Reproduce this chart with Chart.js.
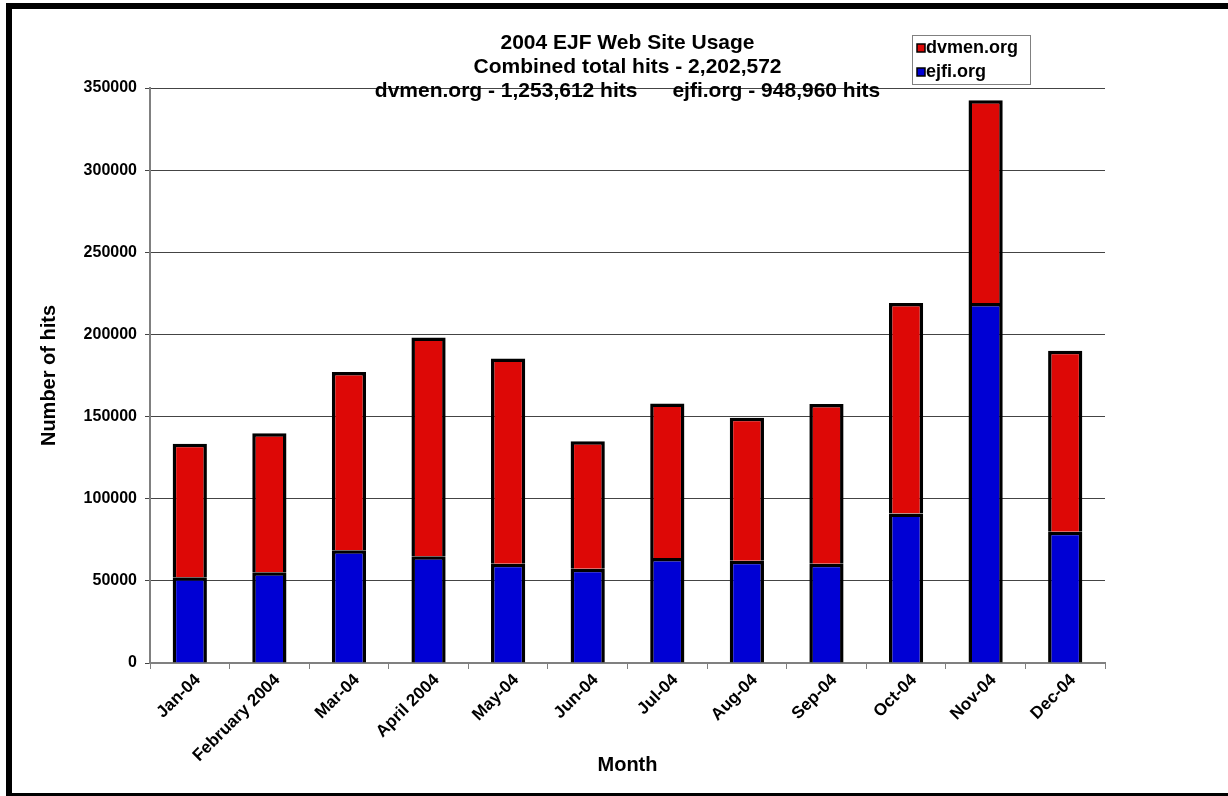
<!DOCTYPE html>
<html>
<head>
<meta charset="utf-8">
<script src="https://cdn.jsdelivr.net/npm/chart.js@4.4.1/dist/chart.umd.min.js"></script>
<style>
  html, body { margin: 0; padding: 0; background: #fff; }
  #wrap { position: relative; width: 1228px; height: 796px; overflow: hidden; }
  #frame {
    position: absolute; left: 6px; top: 3px; width: 1300px; height: 793px;
    box-sizing: border-box; border-top: 6px solid #000; border-left: 6px solid #000;
    border-bottom: 3px solid #000; pointer-events: none;
  }
</style>
</head>
<body>
<div id="wrap">
  <canvas id="usageChart" width="1228" height="796"></canvas>
  <div id="frame"></div>
</div>
<script>
// Data
const months = ['Jan-04', 'February 2004', 'Mar-04', 'April 2004', 'May-04', 'Jun-04',
                'Jul-04', 'Aug-04', 'Sep-04', 'Oct-04', 'Nov-04', 'Dec-04'];
const ejfiHits = [52200, 55300, 68700, 65000, 60400, 57300, 63900, 62200, 60400, 91000, 219200, 79900];
const dvmenHits = [81300, 84500, 108500, 133100, 124900, 77700, 94000, 87100, 97300, 128200, 123300, 110100];
const titleLines = [
    '2004 EJF Web Site Usage',
    'Combined total hits - 2,202,572',
    'dvmen.org - 1,253,612 hits      ejfi.org - 948,960 hits'
];
const yTicks = [0, 50000, 100000, 150000, 200000, 250000, 300000, 350000];

const FONT = 'Arial, "Liberation Sans", sans-serif';

// Title drawn over the top of the plot, like the original
const titlePlugin = {
    id: 'oldTitle',
    afterDraw(chart) {
        const ctx = chart.ctx;
        const area = chart.chartArea;
        const cx = (area.left + area.right) / 2;
        ctx.save();
        ctx.fillStyle = '#000';
        ctx.font = 'bold 21px ' + FONT;
        ctx.textAlign = 'center';
        ctx.textBaseline = 'middle';
        titleLines.forEach((line, i) => {
            ctx.fillText(line, cx, 43 + i * 24);
        });
        ctx.restore();
    }
};

// Boxed legend at the top right
const legendPlugin = {
    id: 'boxLegend',
    afterDraw(chart) {
        const ctx = chart.ctx;
        const x = 912, y = 35, w = 118, h = 49;
        ctx.save();
        ctx.fillStyle = '#fff';
        ctx.fillRect(x, y, w, h);
        ctx.strokeStyle = '#808080';
        ctx.lineWidth = 1;
        ctx.strokeRect(x + 0.5, y + 0.5, w, h);
        const sets = chart.data.datasets.slice().reverse();
        ctx.font = 'bold 18px ' + FONT;
        ctx.textBaseline = 'middle';
        ctx.textAlign = 'left';
        sets.forEach((ds, i) => {
            const iy = y + 13 + i * 24;
            ctx.fillStyle = ds.backgroundColor;
            ctx.fillRect(x + 5, iy - 4, 8, 8);
            ctx.strokeStyle = '#000';
            ctx.lineWidth = 1.5;
            ctx.strokeRect(x + 5, iy - 4, 8, 8);
            ctx.fillStyle = '#000';
            ctx.fillText(ds.label, x + 14, iy);
        });
        ctx.restore();
    }
};

const ctx = document.getElementById('usageChart').getContext('2d');
const usageChart = new Chart(ctx, {
    type: 'bar',
    data: {
        labels: months,
        datasets: [
            {
                label: 'ejfi.org',
                data: ejfiHits,
                backgroundColor: '#0000D4',
                borderColor: '#000',
                borderWidth: { top: 3.5, left: 3.5, right: 3.5, bottom: 0 },
                borderSkipped: false
            },
            {
                label: 'dvmen.org',
                data: dvmenHits,
                backgroundColor: '#DD0806',
                borderColor: '#000',
                borderWidth: { top: 3.5, left: 3.5, right: 3.5, bottom: 0 },
                borderSkipped: false
            }
        ]
    },
    options: {
        responsive: false,
        animation: false,
        layout: { padding: { top: 88, right: 123, left: 0, bottom: 0 } },
        datasets: { bar: { categoryPercentage: 1, barPercentage: 0.43 } },
        plugins: {
            legend: { display: false },
            title: { display: false },
            tooltip: { enabled: false }
        },
        scales: {
            x: {
                stacked: true,
                afterFit(scale) { scale.height = 133; },
                border: { color: '#808080', width: 2 },
                grid: { display: true, drawOnChartArea: false, offset: true, tickLength: 6, color: '#808080' },
                ticks: {
                    color: '#000',
                    font: { family: FONT, size: 17, weight: 'bold' },
                    minRotation: 45,
                    maxRotation: 45,
                    padding: 1,
                    labelOffset: 8,
                    autoSkip: false
                },
                title: {
                    display: true,
                    text: 'Month',
                    color: '#000',
                    font: { family: FONT, size: 20, weight: 'bold' },
                    padding: { top: 0, bottom: 19 }
                }
            },
            y: {
                stacked: true,
                min: 0,
                max: 350000,
                afterFit(scale) { scale.width = 150; },
                afterBuildTicks(scale) { scale.ticks = yTicks.map(v => ({ value: v })); },
                border: { color: '#808080', width: 2 },
                grid: { color: '#444', lineWidth: 1, tickLength: 5 },
                ticks: {
                    color: '#000',
                    font: { family: FONT, size: 16, weight: 'bold' },
                    padding: 8,
                    callback: v => String(v)
                },
                title: {
                    display: true,
                    text: 'Number of hits',
                    color: '#000',
                    font: { family: FONT, size: 20, weight: 'bold' },
                    padding: { top: 37, bottom: 0 }
                }
            }
        }
    },
    plugins: [titlePlugin, legendPlugin]
});
</script>
</body>
</html>
